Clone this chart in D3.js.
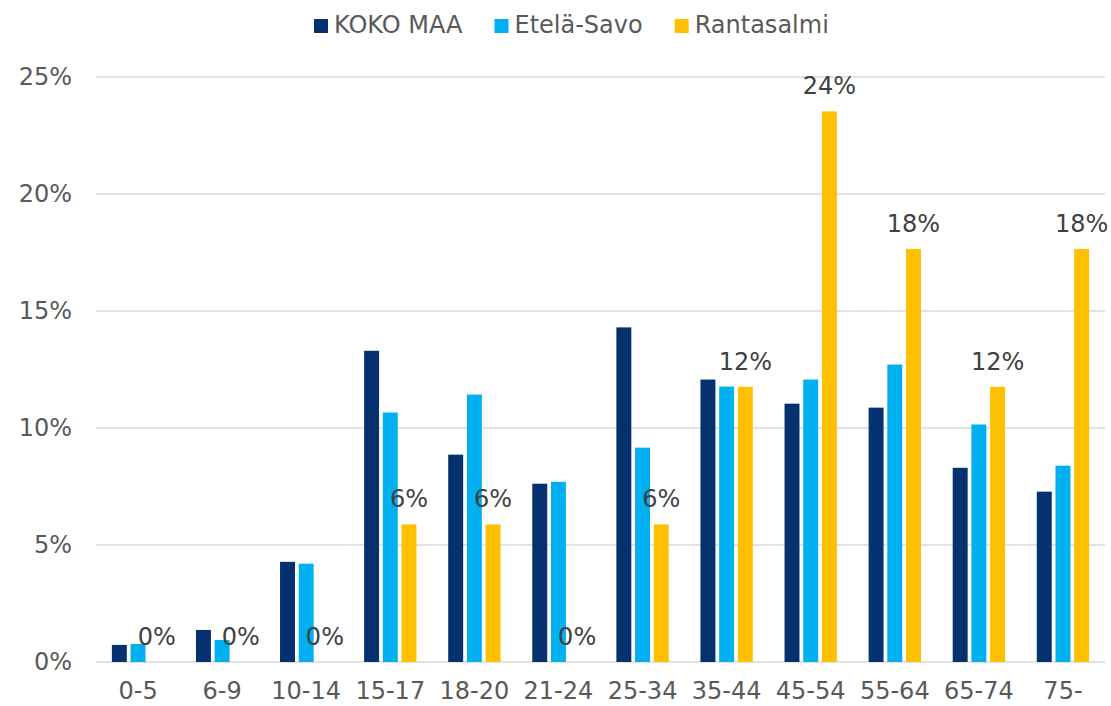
<!DOCTYPE html>
<html>
<head>
<meta charset="utf-8">
<script src="https://cdn.jsdelivr.net/npm/d3@7"></script>
<style>
  body { margin: 0; background: #fff; }
  text { font-family: "DejaVu Sans", Verdana, sans-serif; }
</style>
</head>
<body>
<div id="chart"></div>
<script>
// age groups
const categories = ['0-5', '6-9', '10-14', '15-17', '18-20', '21-24', '25-34', '35-44', '45-54', '55-64', '65-74', '75-'];
const seriesNames = ['KOKO MAA', 'Etelä-Savo', 'Rantasalmi'];
// values in %
const kokoMaa   = [0.73, 1.37, 4.28, 13.3, 8.86, 7.62, 14.3, 12.07, 11.04, 10.87, 8.3, 7.28];
const etelaSavo = [0.77, 0.94, 4.2, 10.66, 11.43, 7.7, 9.16, 11.77, 12.07, 12.71, 10.15, 8.39];
const rantasalmi = [0, 0, 0, 5.88, 5.88, 0, 5.88, 11.76, 23.53, 17.65, 11.76, 17.65];
const yTicks = [0, 5, 10, 15, 20, 25];

const colors = ['#05316e', '#00b0f0', '#ffc000'];
const values = [kokoMaa, etelaSavo, rantasalmi];

const W = 1111, H = 706;
const margin = {top: 77, right: 6, bottom: 44, left: 96};
const width = W - margin.left - margin.right,
      height = H - margin.top - margin.bottom;

const svg = d3.select('#chart')
    .append('svg')
    .attr('width', W)
    .attr('height', H);

const g = svg.append('g')
    .attr('transform', 'translate(' + margin.left + ',' + margin.top + ')');

const x0 = d3.scaleBand()
    .domain(categories)
    .range([0, width])
    .paddingInner(0.333)
    .paddingOuter(0.1665);

const x1 = d3.scaleBand()
    .domain(seriesNames)
    .range([0, x0.bandwidth()])
    .paddingInner(0.2)
    .paddingOuter(0.1);

const y = d3.scaleLinear()
    .domain([0, 25])
    .range([height, 0]);

// gridlines
g.selectAll('.grid')
    .data(yTicks)
    .enter()
    .append('line')
    .attr('class', 'grid')
    .attr('x1', 0)
    .attr('x2', width)
    .attr('y1', d => y(d))
    .attr('y2', d => y(d))
    .attr('stroke', '#d9d9d9')
    .attr('stroke-width', 1.5);

// y axis
const yAxis = d3.axisLeft(y)
    .tickValues(yTicks)
    .tickSize(0)
    .tickPadding(24)
    .tickFormat(d => d + '%');

g.append('g')
    .attr('class', 'y-axis')
    .call(yAxis)
    .call(a => a.select('.domain').remove())
    .selectAll('text')
    .attr('font-size', 24)
    .attr('font-family', '"DejaVu Sans", Verdana, sans-serif')
    .attr('fill', '#595959');

// x axis
const xAxis = d3.axisBottom(x0)
    .tickSize(0)
    .tickPadding(20);

g.append('g')
    .attr('class', 'x-axis')
    .attr('transform', 'translate(0,' + height + ')')
    .call(xAxis)
    .call(a => a.select('.domain').remove())
    .selectAll('text')
    .attr('font-size', 24)
    .attr('font-family', '"DejaVu Sans", Verdana, sans-serif')
    .attr('fill', '#595959');

// bars
const groups = g.selectAll('.group')
    .data(categories)
    .enter()
    .append('g')
    .attr('class', 'group')
    .attr('transform', d => 'translate(' + x0(d) + ',0)');

groups.selectAll('rect')
    .data((c, i) => seriesNames.map((s, k) => ({s: s, k: k, v: values[k][i]})))
    .enter()
    .append('rect')
    .attr('x', d => x1(d.s))
    .attr('y', d => y(d.v))
    .attr('width', x1.bandwidth())
    .attr('height', d => height - y(d.v))
    .attr('fill', d => colors[d.k]);

// data labels, Rantasalmi only
g.selectAll('.label')
    .data(categories)
    .enter()
    .append('text')
    .attr('class', 'label')
    .attr('x', d => x0(d) + x1('Rantasalmi') + x1.bandwidth() / 2)
    .attr('y', (d, i) => y(rantasalmi[i]) - 17)
    .attr('text-anchor', 'middle')
    .attr('font-size', 24)
    .attr('fill', '#404040')
    .text((d, i) => Math.round(rantasalmi[i]) + '%');

// legend
const legend = svg.append('g')
    .attr('transform', 'translate(314,0)');

let lx = 0;
seriesNames.forEach((s, k) => {
    legend.append('rect')
        .attr('x', lx)
        .attr('y', 19)
        .attr('width', 14)
        .attr('height', 14)
        .attr('fill', colors[k]);
    const t = legend.append('text')
        .attr('x', lx + 20)
        .attr('y', 33)
        .attr('font-size', 24)
        .attr('fill', '#595959')
        .text(s);
    lx += 20 + t.node().getComputedTextLength() + 32;
});
</script>
</body>
</html>
